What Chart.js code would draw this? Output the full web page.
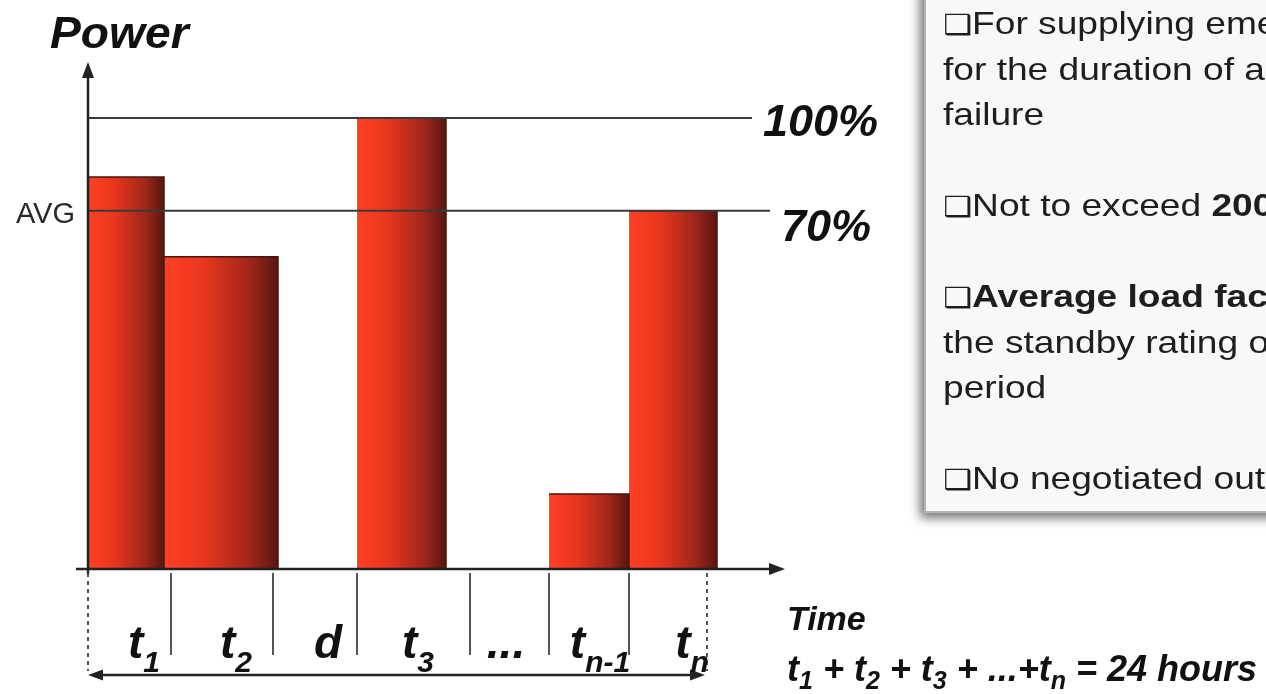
<!DOCTYPE html>
<html>
<head>
<meta charset="utf-8">
<script src="https://cdn.jsdelivr.net/npm/chart.js@4.4.0/dist/chart.umd.min.js"></script>
<style>
  html, body { margin: 0; padding: 0; background: #fff; overflow: hidden; }
  #wrap { width: 1266px; height: 694px; position: relative; }
</style>
</head>
<body>
<div id="wrap"><canvas id="myChart"></canvas></div>
<script>
// load blocks over one day (x in time units, y in % of standby rating)
const slotStart = [0, 7.6, 26.9, 46.1, 54.1];
const slotEnd   = [7.6, 19.0, 35.8, 54.1, 62.9];
const slotPower = [86.9, 69.2, 100, 16.6, 79.4];

// divisions and labels under the time axis
const dividerX = [0, 8.3, 18.5, 26.9, 38.2, 46.1, 54.1, 61.9];
const tickMain = ['t', 't', 'd', 't', '...', 't', 't'];
const tickSub  = ['1', '2', '', '3', '', 'n-1', 'n'];
const tickX    = [5.6, 14.8, 24.0, 33.0, 41.8, 51.2, 60.4];

// reference levels
const refValues = [100, 79.4];
const refLabels = ['100%', '70%'];
const refEnd    = [66.4, 68.2];

// text panel on the right
const noteLines = [
  [['\u2751', 0], ['For supplying emergency power', 0]],
  [['for the duration of a utility power', 0]],
  [['failure', 0]],
  [],
  [['\u2751', 0], ['Not to exceed ', 0], ['200 hours per year', 1]],
  [],
  [['\u2751', 0], ['Average load factor of 70% of', 1]],
  [['the standby rating over 24 hour', 0]],
  [['period', 0]],
  [],
  [['\u2751', 0], ['No negotiated outages', 0]]
];

const FONT = "'Liberation Sans', Arial, sans-serif";

function barFill(ctx, i) {
  const chart = ctx.chart;
  if (!chart.chartArea) return '#e63820';
  const xs = chart.scales.x;
  const g = chart.ctx.createLinearGradient(xs.getPixelForValue(slotStart[i]), 0, xs.getPixelForValue(slotEnd[i]), 0);
  g.addColorStop(0, '#ff4023');
  g.addColorStop(0.35, '#e8361f');
  g.addColorStop(0.75, '#a0261a');
  g.addColorStop(1, '#561710');
  return g;
}

const datasets = [];

for (let i = 0; i < refValues.length; i++) {
  datasets.push({
    data: [{x: 0, y: refValues[i]}, {x: refEnd[i], y: refValues[i]}],
    borderColor: '#3a3a3a',
    borderWidth: 2,
    pointRadius: 0,
    fill: false,
    order: 0
  });
}

for (let i = 0; i < slotPower.length; i++) {
  datasets.push({
    data: [
      {x: slotStart[i], y: 0},
      {x: slotStart[i], y: slotPower[i]},
      {x: slotEnd[i], y: slotPower[i]},
      {x: slotEnd[i], y: 0}
    ],
    fill: 'origin',
    backgroundColor: (ctx) => barFill(ctx, i),
    borderColor: '#4a150d',
    borderWidth: 1.5,
    pointRadius: 0,
    tension: 0,
    order: 2,
    segment: {
      borderColor: (c) => c.p0DataIndex === 0 ? 'rgba(0,0,0,0)' : undefined
    }
  });
}

function arrowHead(ctx, x, y, dir, len, half) {
  // dir: 'up', 'right', 'left'
  ctx.beginPath();
  if (dir === 'up') {
    ctx.moveTo(x, y); ctx.lineTo(x - half, y + len); ctx.lineTo(x + half, y + len);
  } else if (dir === 'right') {
    ctx.moveTo(x, y); ctx.lineTo(x - len, y - half); ctx.lineTo(x - len, y + half);
  } else {
    ctx.moveTo(x, y); ctx.lineTo(x + len, y - half); ctx.lineTo(x + len, y + half);
  }
  ctx.closePath();
  ctx.fill();
}

// draws pieces of text [str, isSub] left to right, returns end x
function richText(ctx, parts, x, y, size, subSize, drop, sx) {
  let cx = x;
  for (const [str, sub] of parts) {
    ctx.font = 'italic bold ' + (sub ? subSize : size) + 'px ' + FONT;
    ctx.save();
    ctx.translate(cx, y + (sub ? drop : 0));
    ctx.scale(sx, 1);
    ctx.fillText(str, 0, 0);
    ctx.restore();
    cx += ctx.measureText(str).width * sx;
  }
  return cx;
}

function richWidth(ctx, parts, size, subSize, sx) {
  let w = 0;
  for (const [str, sub] of parts) {
    ctx.font = 'italic bold ' + (sub ? subSize : size) + 'px ' + FONT;
    w += ctx.measureText(str).width * sx;
  }
  return w;
}

const decor = {
  id: 'decor',
  afterDatasetsDraw(chart) {
    const ctx = chart.ctx;
    const xs = chart.scales.x, ys = chart.scales.y;
    const area = chart.chartArea;
    const x0 = xs.getPixelForValue(0);
    const y0 = ys.getPixelForValue(0);

    ctx.save();
    ctx.strokeStyle = '#222';
    ctx.fillStyle = '#222';
    ctx.lineWidth = 2.5;

    // power axis
    ctx.beginPath();
    ctx.moveTo(x0, y0 + 6);
    ctx.lineTo(x0, area.top + 10);
    ctx.stroke();
    arrowHead(ctx, x0, area.top, 'up', 16, 6);

    // time axis
    ctx.beginPath();
    ctx.moveTo(x0 - 12, y0);
    ctx.lineTo(area.right - 10, y0);
    ctx.stroke();
    arrowHead(ctx, area.right, y0, 'right', 16, 6);

    // dividers below the axis
    ctx.strokeStyle = '#555';
    ctx.lineWidth = 2;
    for (let i = 0; i < dividerX.length; i++) {
      const px = xs.getPixelForValue(dividerX[i]);
      const dashed = i === 0 || i === dividerX.length - 1;
      ctx.setLineDash(dashed ? [4, 4] : []);
      ctx.beginPath();
      ctx.moveTo(px, y0 + 4);
      ctx.lineTo(px, dashed ? y0 + 102 : y0 + 86);
      ctx.stroke();
    }
    ctx.setLineDash([]);

    // span arrow
    const xa = xs.getPixelForValue(dividerX[0]);
    const xb = xs.getPixelForValue(dividerX[dividerX.length - 1]);
    const ya = y0 + 106;
    ctx.strokeStyle = '#222';
    ctx.lineWidth = 2.5;
    ctx.beginPath();
    ctx.moveTo(xa + 8, ya);
    ctx.lineTo(xb - 8, ya);
    ctx.stroke();
    ctx.fillStyle = '#222';
    arrowHead(ctx, xa, ya, 'left', 15, 5.5);
    arrowHead(ctx, xb - 2, ya, 'right', 15, 5.5);

    // slot labels
    ctx.fillStyle = '#111';
    ctx.textBaseline = 'alphabetic';
    ctx.textAlign = 'left';
    for (let i = 0; i < tickMain.length; i++) {
      const parts = [[tickMain[i], 0]];
      if (tickSub[i]) parts.push([tickSub[i], 1]);
      const w = richWidth(ctx, parts, 46, 30, 1);
      richText(ctx, parts, xs.getPixelForValue(tickX[i]) - w / 2, y0 + 89, 46, 30, 14, 1);
    }

    // reference labels
    for (let i = 0; i < refValues.length; i++) {
      const py = ys.getPixelForValue(refValues[i]);
      richText(ctx, [[refLabels[i], 0]], xs.getPixelForValue(refEnd[i]) + 11, py + (i === 0 ? 18 : 30), 45, 30, 0, 1);
    }
    ctx.font = '29px ' + FONT;
    ctx.fillStyle = '#2a2a2a';
    ctx.textAlign = 'right';
    ctx.fillText('AVG', x0 - 13, ys.getPixelForValue(refValues[1]) + 12);
    ctx.textAlign = 'left';

    // titles
    ctx.fillStyle = '#111';
    richText(ctx, [['Power', 0]], 50, 48, 44, 30, 0, 1.05);
    richText(ctx, [['Time', 0]], 787, 630, 34, 24, 0, 1);
    richText(ctx, [['t', 0], ['1', 1], [' + t', 0], ['2', 1], [' + t', 0], ['3', 1],
                   [' + ...+t', 0], ['n', 1], [' = 24 hours', 0]], 787, 681, 36, 25, 8, 1);

    // note panel
    const bx = 925, by = -20, bw = 400, bh = 532;
    ctx.save();
    ctx.shadowColor = 'rgba(0,0,0,0.55)';
    ctx.shadowBlur = 10;
    ctx.shadowOffsetX = -5;
    ctx.shadowOffsetY = 6;
    ctx.fillStyle = '#f8f8f8';
    ctx.fillRect(bx, by, bw, bh);
    ctx.restore();
    ctx.strokeStyle = '#b4b4b4';
    ctx.lineWidth = 2;
    ctx.strokeRect(bx, by, bw, bh);

    ctx.fillStyle = '#1e1e1e';
    for (let i = 0; i < noteLines.length; i++) {
      let cx = 943;
      const cy = 34 + i * 45.5;
      for (const [str, bold] of noteLines[i]) {
        const box = str === '\u2751';
        ctx.font = (bold ? 'bold ' : '') + (box ? '28px DejaVu Sans' : '32px ' + FONT);
        ctx.save();
        ctx.translate(cx, cy);
        ctx.scale(1.16, 1);
        ctx.fillText(str, 0, 0);
        ctx.restore();
        cx += ctx.measureText(str).width * 1.16;
      }
    }
    ctx.restore();
  }
};

const config = {
  type: 'line',
  data: { datasets: datasets },
  options: {
    responsive: true,
    maintainAspectRatio: false,
    animation: false,
    layout: { padding: { left: 88, top: 62, right: 1266 - 785, bottom: 694 - 569 } },
    scales: {
      x: { type: 'linear', min: 0, max: 69.7, display: false },
      y: { type: 'linear', min: 0, max: 112.4, display: false }
    },
    plugins: {
      legend: { display: false },
      tooltip: { enabled: false }
    }
  },
  plugins: [decor]
};

const myChart = new Chart(document.getElementById('myChart'), config);
</script>
</body>
</html>
